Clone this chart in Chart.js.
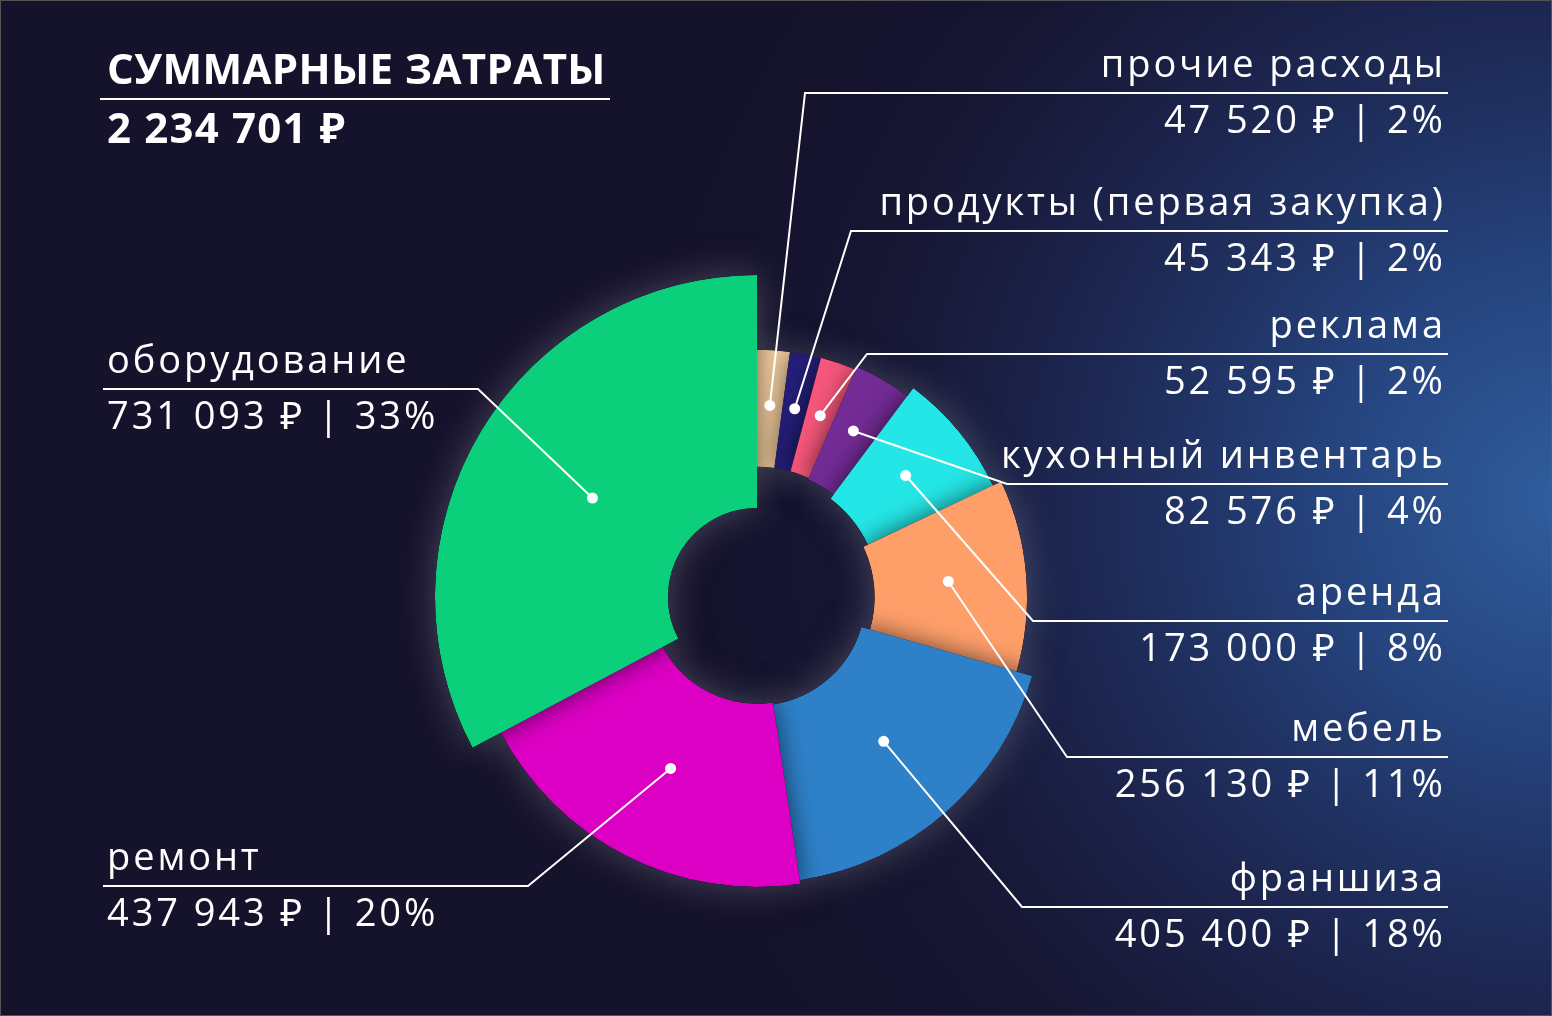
<!DOCTYPE html>
<html>
<head>
<meta charset="utf-8">
<script src="https://cdn.jsdelivr.net/npm/chart.js@4/dist/chart.umd.min.js"></script>
<style>
  html, body { margin: 0; padding: 0; background: #15122b; overflow: hidden; }
  #wrap { width: 1552px; height: 1016px; position: relative; }
  canvas { display: block; }
</style>
</head>
<body>
<div id="wrap"><canvas id="c" width="1552" height="1016"></canvas></div>
<script>
// ---------- DATA ----------
const chartTitle = 'СУММАРНЫЕ ЗАТРАТЫ';
const totalLabel = '2 234 701 ₽';
const categories = [
  'прочие расходы',
  'продукты (первая закупка)',
  'реклама',
  'кухонный инвентарь',
  'аренда',
  'мебель',
  'франшиза',
  'ремонт',
  'оборудование'
];
const values   = [47520, 45343, 52595, 82576, 173000, 256130, 405400, 437943, 731093];
const percents = [2, 2, 2, 4, 8, 11, 18, 20, 33];

// ---------- STYLE / LAYOUT ----------
const colors = ['#f8d2a2', '#241e78', '#f6577a', '#732b95', '#25e6e6', '#fe9f6a', '#2e80c8', '#dc00c4', '#0bcf7b'];
const labelLayout = [
  { side: 'right', lineY: 93,  elbowX: 805 },
  { side: 'right', lineY: 231, elbowX: 851 },
  { side: 'right', lineY: 354, elbowX: 867 },
  { side: 'right', lineY: 484, elbowX: 1007 },
  { side: 'right', lineY: 621, elbowX: 1033 },
  { side: 'right', lineY: 757, elbowX: 1067 },
  { side: 'right', lineY: 907, elbowX: 1022 },
  { side: 'left',  lineY: 886, elbowX: 528 },
  { side: 'left',  lineY: 389, elbowX: 478 }
];
const RIGHT_LINE_END = 1448, RIGHT_TEXT_X = 1443;
const LEFT_LINE_END = 103, LEFT_TEXT_X = 107;
const FONT = '"Open Sans", "Noto Sans", sans-serif';
const LABEL_SPACING = 2.9;
const DOT_R = 192;

function fmt(n) { return String(n).replace(/\B(?=(\d{3})+(?!\d))/g, ' '); }
const vmax = Math.max(...values);
// radius encoding: bigger value -> longer and deeper segment
function outerR(v) { return 242 + 80 * v / vmax; }
function innerR(v) { return 133 - 44 * v / vmax; }

function arcPath(el) {
  const p = new Path2D();
  const { x, y, startAngle: s, endAngle: e, innerRadius: ri, outerRadius: ro } = el;
  p.moveTo(x + ro * Math.cos(s), y + ro * Math.sin(s));
  p.arc(x, y, ro, s, e);
  p.arc(x, y, ri, e, s, true);
  p.closePath();
  return p;
}

const bgPlugin = {
  id: 'bg',
  beforeDraw(chart) {
    const ctx = chart.ctx, W = chart.width, H = chart.height;
    ctx.save();
    ctx.fillStyle = '#15122b';
    ctx.fillRect(0, 0, W, H);
    const g = ctx.createRadialGradient(1560, 500, 0, 1560, 500, 950);
    g.addColorStop(0, 'rgba(48,94,158,1)');
    g.addColorStop(0.25, 'rgba(38,70,130,0.95)');
    g.addColorStop(0.55, 'rgba(30,42,88,0.75)');
    g.addColorStop(0.8, 'rgba(24,26,58,0.35)');
    g.addColorStop(1, 'rgba(21,18,43,0)');
    ctx.fillStyle = g;
    ctx.fillRect(0, 0, W, H);
    ctx.restore();
  }
};

const shapePlugin = {
  id: 'shape',
  afterDatasetsUpdate(chart) {
    const meta = chart.getDatasetMeta(0);
    meta.data.forEach((el, i) => {
      el.outerRadius = outerR(values[i]);
      el.innerRadius = innerR(values[i]);
    });
  },
  beforeDatasetsDraw(chart) {
    const ctx = chart.ctx;
    const meta = chart.getDatasetMeta(0);
    meta.data.forEach(el => {
      ctx.save();
      ctx.shadowColor = 'rgba(125,125,140,0.5)';
      ctx.shadowBlur = 36;
      ctx.fillStyle = '#1a1830';
      ctx.fill(arcPath(el));
      ctx.restore();
    });
  },
  beforeDatasetDraw(chart) {
    const ctx = chart.ctx;
    const meta = chart.getDatasetMeta(0);
    const union = new Path2D();
    meta.data.forEach(el => union.addPath(arcPath(el)));
    ctx.save();
    ctx.clip(union);
    ctx.shadowColor = 'rgba(0,0,0,0.6)';
    ctx.shadowBlur = 24;
  },
  afterDatasetDraw(chart) {
    chart.ctx.restore();
  },
  afterDraw(chart) {
    const ctx = chart.ctx;
    const meta = chart.getDatasetMeta(0);
    ctx.save();
    ctx.strokeStyle = '#ffffff';
    ctx.fillStyle = '#ffffff';
    ctx.lineWidth = 2;
    meta.data.forEach((el, i) => {
      const L = labelLayout[i];
      const mid = (el.startAngle + el.endAngle) / 2;
      const dx = el.x + DOT_R * Math.cos(mid);
      const dy = el.y + DOT_R * Math.sin(mid);
      const endX = L.side === 'right' ? RIGHT_LINE_END : LEFT_LINE_END;
      ctx.beginPath();
      ctx.moveTo(dx, dy);
      ctx.lineTo(L.elbowX, L.lineY);
      ctx.lineTo(endX, L.lineY);
      ctx.stroke();
      ctx.beginPath();
      ctx.arc(dx, dy, 5.5, 0, Math.PI * 2);
      ctx.fill();
      ctx.font = '38px ' + FONT;
      ctx.letterSpacing = LABEL_SPACING + 'px';
      ctx.textBaseline = 'alphabetic';
      ctx.textAlign = L.side === 'right' ? 'right' : 'left';
      const tx = L.side === 'right' ? RIGHT_TEXT_X + LABEL_SPACING : LEFT_TEXT_X;
      ctx.fillText(categories[i], tx, L.lineY - 16);
      ctx.fillText(fmt(values[i]) + ' ₽ | ' + percents[i] + '%', tx, L.lineY + 40);
    });
    ctx.textAlign = 'left';
    ctx.font = 'bold 42px ' + FONT;
    ctx.letterSpacing = '0.4px';
    ctx.fillText(chartTitle, 107, 84);
    ctx.letterSpacing = '1.2px';
    ctx.fillText(totalLabel, 107, 143);
    ctx.letterSpacing = '0px';
    ctx.beginPath();
    ctx.moveTo(100, 99);
    ctx.lineTo(610, 99);
    ctx.stroke();
    ctx.strokeStyle = 'rgba(90,90,90,0.9)';
    ctx.lineWidth = 1;
    ctx.strokeRect(0.5, 0.5, chart.width - 1, chart.height - 1);
    ctx.restore();
  }
};

function build() {
  new Chart(document.getElementById('c'), {
    type: 'doughnut',
    data: {
      labels: categories,
      datasets: [{
        data: values,
        backgroundColor: colors,
        borderWidth: 0
      }]
    },
    options: {
      responsive: false,
      animation: false,
      events: [],
      rotation: 0,
      circumference: 360,
      cutout: '30%',
      layout: { padding: { top: 178, left: 0, right: 38, bottom: 0 } },
      plugins: { legend: { display: false }, tooltip: { enabled: false } }
    },
    plugins: [bgPlugin, shapePlugin]
  });
}
Promise.all([
  document.fonts.load('38px "Open Sans"'),
  document.fonts.load('bold 42px "Open Sans"')
]).then(build, build);
</script>
</body>
</html>
